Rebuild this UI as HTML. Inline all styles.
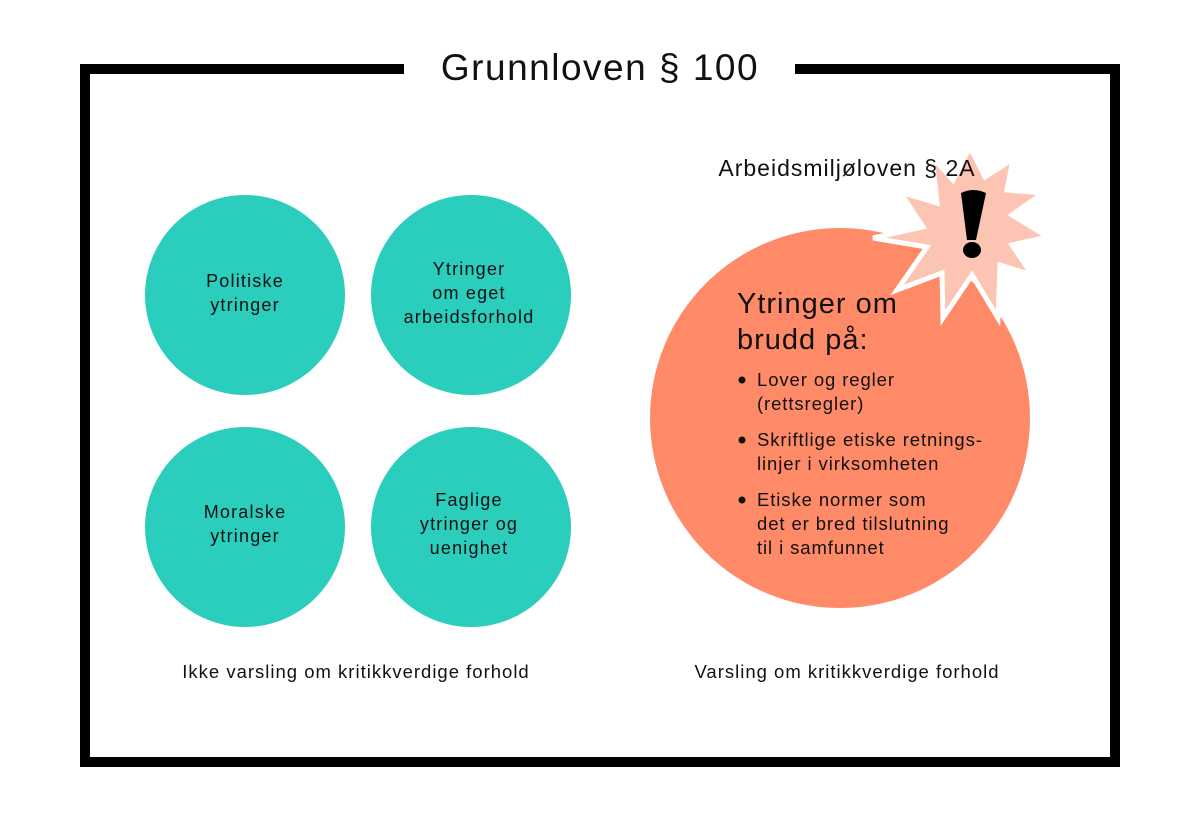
<!DOCTYPE html>
<html><head><meta charset="utf-8"><style>
html,body{margin:0;padding:0;background:#fff}
svg{display:block}
text{font-family:"Liberation Sans",sans-serif;fill:#111}
</style></head><body>
<svg width="1200" height="826" viewBox="0 0 1200 826" xmlns="http://www.w3.org/2000/svg">
<rect width="1200" height="826" fill="#fff"/>
<path d="M404 69 H85 V762 H1115 V69 H795" fill="none" stroke="#000" stroke-width="10"/>
<text x="600" y="80" font-size="37" letter-spacing="1.5" text-anchor="middle">Grunnloven § 100</text>

<g fill="#2bcdbd">
<circle cx="245" cy="295" r="100"/>
<circle cx="471" cy="295" r="100"/>
<circle cx="245" cy="527" r="100"/>
<circle cx="471" cy="527" r="100"/>
</g>
<g font-size="18" letter-spacing="1.2" text-anchor="middle">
<text x="245" y="287">Politiske</text>
<text x="245" y="311">ytringer</text>
<text x="469" y="275">Ytringer</text>
<text x="469" y="299">om eget</text>
<text x="469" y="323">arbeidsforhold</text>
<text x="245" y="518">Moralske</text>
<text x="245" y="542">ytringer</text>
<text x="469" y="506">Faglige</text>
<text x="469" y="530">ytringer og</text>
<text x="469" y="554">uenighet</text>
</g>

<circle cx="840" cy="418" r="190" fill="#ff8a68"/>

<polygon points="970,147 985,177 1013,159 1007,190 1043,193 1012,215 1048,237 1012,245 1032,275 1000,265 998,318 972,275 943,318 942,273 897,290 927,247 873,238 923,227 900,192 937,203 932,157 953,180" fill="#fcc4b2" stroke="#fff" stroke-width="5" stroke-linejoin="miter"/>
<path d="M961 193 Q973 187 986 193 L976 240 L967 240 Z" fill="#000"/>
<ellipse cx="972" cy="250" rx="9" ry="8" fill="#000"/>

<text x="847" y="176" font-size="23" letter-spacing="1" text-anchor="middle">Arbeidsmiljøloven § 2A</text>

<g font-size="29" letter-spacing="1">
<text x="737" y="313">Ytringer om</text>
<text x="737" y="349">brudd på:</text>
</g>
<g fill="#111">
<circle cx="742" cy="380" r="3.5"/>
<circle cx="742" cy="440" r="3.5"/>
<circle cx="742" cy="500" r="3.5"/>
</g>
<g font-size="18.5" letter-spacing="0.9">
<text x="757" y="386">Lover og regler</text>
<text x="757" y="410">(rettsregler)</text>
<text x="757" y="446">Skriftlige etiske retnings-</text>
<text x="757" y="470">linjer i virksomheten</text>
<text x="757" y="506">Etiske normer som</text>
<text x="757" y="530">det er bred tilslutning</text>
<text x="757" y="554">til i samfunnet</text>
</g>

<g font-size="18.5" letter-spacing="1" text-anchor="middle">
<text x="356" y="678">Ikke varsling om kritikkverdige forhold</text>
<text x="847" y="678">Varsling om kritikkverdige forhold</text>
</g>
</svg>
</body></html>
